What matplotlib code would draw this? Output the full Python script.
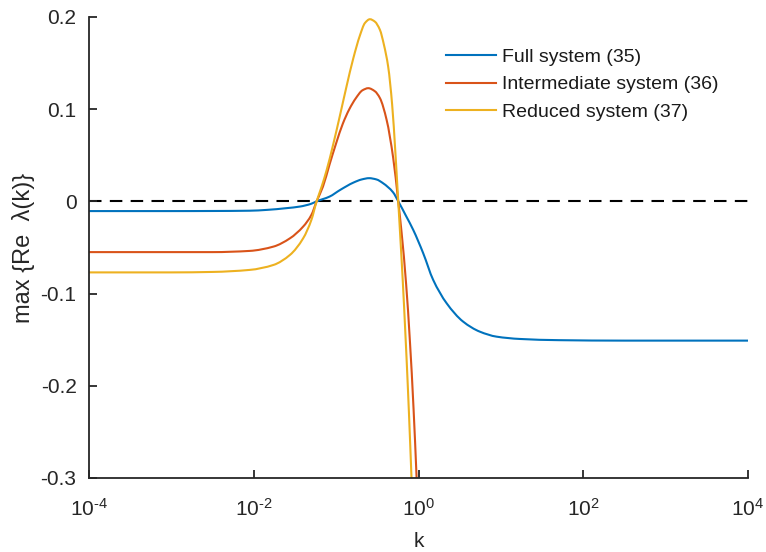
import numpy as np
import matplotlib
matplotlib.use("Agg")
import matplotlib.pyplot as plt
from matplotlib.ticker import FixedLocator
from matplotlib.path import Path
from matplotlib.patches import PathPatch
from matplotlib.lines import Line2D

plt.rcParams['font.family'] = ['Liberation Sans', 'DejaVu Sans']
plt.rcParams['mathtext.default'] = 'regular'
plt.rcParams['axes.unicode_minus'] = False

# ---- data (log10 k positions and values) ----
full_log10k = [-4.0, -3.0, -2.5, -2.05, -1.84, -1.6, -1.44, -1.3, -1.24, -1.08,
               -0.95, -0.79, -0.69, -0.60, -0.51, -0.43, -0.31, -0.245, -0.15,
               -0.064, 0.057, 0.178, 0.341, 0.542, 0.745, 0.948, 1.231, 1.7,
               2.5, 4.0]
full_vals = [-0.0105, -0.0105, -0.0104, -0.0101, -0.0092, -0.0073, -0.0056,
             -0.0025, 0.0, 0.0052, 0.0125, 0.0204, 0.0238, 0.0252, 0.0238,
             0.0197, 0.0100, 0.0, -0.0160, -0.0309, -0.0562, -0.0851, -0.1104,
             -0.1304, -0.1413, -0.1467, -0.1492, -0.1505, -0.151, -0.151]

inter_log10k = [-4.0, -3.0, -2.5, -2.05, -1.76, -1.56, -1.40, -1.30, -1.237,
                -1.16, -1.08, -1.0, -0.92, -0.84, -0.76, -0.68, -0.61, -0.53,
                -0.468, -0.387, -0.307, -0.246, -0.205, -0.15, -0.104, -0.06,
                -0.023, 0.0]
inter_vals = [-0.055, -0.055, -0.0550, -0.0537, -0.049, -0.040, -0.0273,
              -0.0146, 0.0, 0.016, 0.040, 0.063, 0.084, 0.100, 0.112, 0.1205,
              0.1228, 0.1195, 0.112, 0.0884, 0.047, 0.0, -0.034, -0.090,
              -0.152, -0.225, -0.300, -0.350]

red_log10k = [-4.0, -3.0, -2.5, -2.05, -1.76, -1.56, -1.40, -1.30, -1.237,
              -1.176, -1.115, -1.035, -0.954, -0.873, -0.792, -0.711, -0.65,
              -0.59, -0.53, -0.468, -0.42, -0.368, -0.32, -0.28, -0.246,
              -0.22, -0.19, -0.16, -0.13, -0.10, -0.085]
red_vals = [-0.077, -0.077, -0.0765, -0.0743, -0.0689, -0.058, -0.040,
            -0.020, 0.0, 0.016, 0.034, 0.062, 0.093, 0.125, 0.155, 0.180,
            0.1935, 0.1976, 0.1950, 0.186, 0.170, 0.146, 0.105, 0.052, 0.0,
            -0.040, -0.088, -0.142, -0.200, -0.265, -0.300]

series_labels = ['Full system (35)', 'Intermediate system (36)', 'Reduced system (37)']
series_colors = ['#0072BD', '#D95319', '#EDB120']

x_ticks = [1e-4, 1e-2, 1e0, 1e2, 1e4]
x_tick_exps = ['\u2010' + '4', '\u2010' + '2', '0', '2', '4']
y_ticks = [-0.3, -0.2, -0.1, 0, 0.1, 0.2]
y_tick_labels = ['-0.3', '-0.2', '-0.1', '0', '0.1', '0.2']


def smooth_path(lx, ly):
    """Cubic Bezier path through the read points (monotone Hermite tangents)."""
    x = np.asarray(lx, float)
    y = np.asarray(ly, float)
    h = np.diff(x)
    d = np.diff(y) / h
    m = np.zeros_like(y)
    m[0], m[-1] = d[0], d[-1]
    for i in range(1, len(x) - 1):
        if d[i - 1] * d[i] <= 0:
            m[i] = 0.0
        else:
            w1 = 2 * h[i] + h[i - 1]
            w2 = h[i] + 2 * h[i - 1]
            m[i] = (w1 + w2) / (w1 / d[i - 1] + w2 / d[i])
    verts = [(x[0], y[0])]
    codes = [Path.MOVETO]
    for i in range(len(h)):
        verts.append((x[i] + h[i] / 3, y[i] + m[i] * h[i] / 3))
        verts.append((x[i + 1] - h[i] / 3, y[i + 1] - m[i + 1] * h[i] / 3))
        verts.append((x[i + 1], y[i + 1]))
        codes += [Path.CURVE4] * 3
    verts = np.array(verts)
    verts[:, 0] = 10 ** verts[:, 0]
    return Path(verts, codes)


W, H = 766, 552
fig = plt.figure(figsize=(W / 100, H / 100), dpi=100)
ax = fig.add_axes([89 / W, 1 - 478 / H, (748 - 89) / W, (478 - 17) / H])

ax.set_xscale('log')
ax.set_xlim(1e-4, 1e4)
ax.set_ylim(-0.3, 0.2)

handles = []
for lk, vals, lab, col in zip([full_log10k, inter_log10k, red_log10k],
                              [full_vals, inter_vals, red_vals],
                              series_labels, series_colors):
    patch = PathPatch(smooth_path(lk, vals), facecolor='none', edgecolor=col,
                      lw=1.5, zorder=2, joinstyle='round')
    ax.add_patch(patch)
    handles.append(Line2D([], [], color=col, lw=1.5, label=lab))

ax.axhline(0, color='black', lw=1.5, ls=(0, (6.0, 4.0)), zorder=1)

ax.xaxis.set_major_locator(FixedLocator(x_ticks))
ax.xaxis.set_minor_locator(FixedLocator([]))
ax.set_xticklabels([r'$10^{%s}$' % e for e in x_tick_exps])
ax.set_yticks(y_ticks)
ax.set_yticklabels(y_tick_labels)

for s in ['top', 'right']:
    ax.spines[s].set_visible(False)
for s in ['left', 'bottom']:
    ax.spines[s].set_color('#262626')
    ax.spines[s].set_linewidth(1.3)

ax.tick_params(axis='both', direction='in', length=5.5, width=1.3,
               color='#262626', labelcolor='#262626', labelsize=15)
ax.tick_params(axis='y', pad=9)
ax.tick_params(axis='x', pad=14)

ax.set_xlabel('k', fontsize=15, color='#262626', labelpad=9)
ax.set_ylabel('max {Re  λ(k)}', fontsize=17, color='#262626', labelpad=4)

leg = ax.legend(handles=handles, loc='upper left',
                bbox_to_anchor=(446 / W, 1 - 48 / H),
                bbox_transform=fig.transFigure, frameon=False, fontsize=14,
                handlelength=2.55, handletextpad=0.35, labelspacing=0.52,
                borderpad=0, borderaxespad=0)
for t in leg.get_texts():
    t.set_color('#1a1a1a')

fig.savefig('out.png', dpi=100)
